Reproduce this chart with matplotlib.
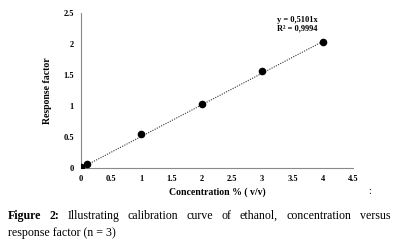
import numpy as np
import matplotlib.pyplot as plt

# calibration data
conc = [0, 0.1, 1, 2, 3, 4]
response = [0.01, 0.06, 0.55, 1.03, 1.56, 2.03]
slope = 0.5101
x_ticks = [0, 0.5, 1, 1.5, 2, 2.5, 3, 3.5, 4, 4.5]
x_tick_labels = ['0', '0.5', '1', '1.5', '2', '2.5', '3', '3.5', '4', '4.5']
y_ticks = [0, 0.5, 1, 1.5, 2, 2.5]
y_tick_labels = ['0', '0.5', '1', '1.5', '2', '2.5']

caption_bold = 'Figure 2:'
caption_line1 = 'Illustrating calibration curve of ethanol, concentration versus'
caption_line2 = 'response factor (n = 3)'

plt.rcParams['font.family'] = 'Liberation Serif'

fig = plt.figure(figsize=(3.94, 2.46), dpi=100)
ax = fig.add_axes([0.2056, 0.317, 0.690, 0.630])

# ===== trend line + points =====
xfit = np.array([0, conc[-1]])
ax.plot(xfit, slope * xfit, ls=(0, (1, 1.2)), color='#333333', lw=0.8)
ax.scatter(conc, response, s=20, color='black', zorder=3)

ax.set_xlim(0, 4.5)
ax.set_ylim(0, 2.5)
ax.set_xticks(x_ticks)
ax.set_xticklabels(x_tick_labels, fontsize=6, fontweight='bold')
ax.set_yticks(y_ticks)
ax.set_yticklabels(y_tick_labels, fontsize=6, fontweight='bold')
ax.tick_params(length=0, pad=5)

for s in ['top', 'right']:
	ax.spines[s].set_visible(False)
for s in ['left', 'bottom']:
	ax.spines[s].set_color('#8a8a8a')
	ax.spines[s].set_linewidth(0.8)

ax.set_xlabel('Concentration % ( v/v)', fontsize=7, fontweight='bold', labelpad=3)
ax.set_ylabel('Response factor', fontsize=7, fontweight='bold', labelpad=8)

ax.text(3.24, 2.45, 'y = 0,5101x\nR² = 0,9994', fontsize=6, fontweight='bold',
	va='top', ha='left', linespacing=1.1)

fig.text(370 / 394, 1 - 192 / 246, ':', fontsize=7, ha='center', va='center')

# ===== caption, justified first line =====
fs = 8.6
left, right = 8 / 394, 390 / 394
y1 = 1 - 216 / 246
y2 = 1 - 233 / 246
words = [(caption_bold.split()[0], 'bold'), (caption_bold.split()[1], 'bold')]
words += [(w, 'normal') for w in caption_line1.split()]
renderer = fig.canvas.get_renderer()
widths = []
for w, fw in words:
	t = fig.text(0, 0, w, fontsize=fs, fontweight=fw)
	bb = t.get_window_extent(renderer)
	widths.append(bb.width / fig.bbox.width)
	t.remove()
gap = (right - left - sum(widths)) / (len(words) - 1)
x = left
for (w, fw), wd in zip(words, widths):
	fig.text(x, y1, w, fontsize=fs, fontweight=fw, va='center', ha='left')
	x += wd + gap
fig.text(left, y2, caption_line2, fontsize=fs, va='center', ha='left')

fig.savefig('out.png', dpi=100)
